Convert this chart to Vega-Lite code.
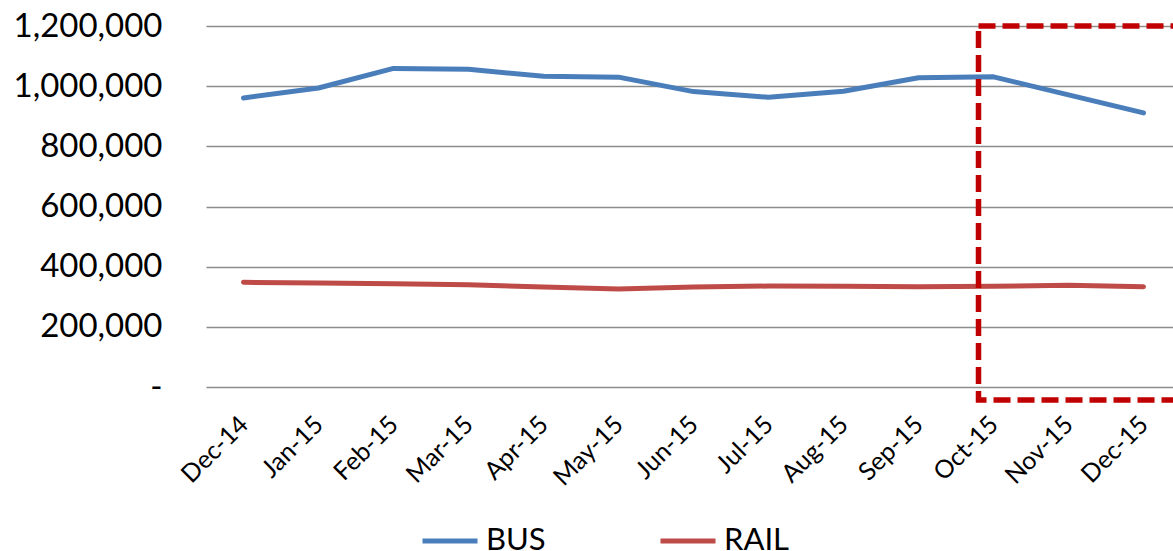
{
  "$schema": "https://vega.github.io/schema/vega-lite/v6.json",
  "autosize": {"type": "none"},
  "width": 967,
  "height": 361,
  "padding": {"left": 206, "top": 26, "right": 0, "bottom": 164},
  "background": "white",
  "config": {"view": {"stroke": null}, "font": "Lato"},
  "datasets": {
    "ridership": [
      {"month": "Dec-14", "mode": "BUS", "riders": 961000},
      {"month": "Jan-15", "mode": "BUS", "riders": 994000},
      {"month": "Feb-15", "mode": "BUS", "riders": 1059000},
      {"month": "Mar-15", "mode": "BUS", "riders": 1056000},
      {"month": "Apr-15", "mode": "BUS", "riders": 1033000},
      {"month": "May-15", "mode": "BUS", "riders": 1030000},
      {"month": "Jun-15", "mode": "BUS", "riders": 982000},
      {"month": "Jul-15", "mode": "BUS", "riders": 963000},
      {"month": "Aug-15", "mode": "BUS", "riders": 983000},
      {"month": "Sep-15", "mode": "BUS", "riders": 1028000},
      {"month": "Oct-15", "mode": "BUS", "riders": 1031000},
      {"month": "Nov-15", "mode": "BUS", "riders": 971000},
      {"month": "Dec-15", "mode": "BUS", "riders": 911000},
      {"month": "Dec-14", "mode": "RAIL", "riders": 348000},
      {"month": "Jan-15", "mode": "RAIL", "riders": 345500},
      {"month": "Feb-15", "mode": "RAIL", "riders": 343000},
      {"month": "Mar-15", "mode": "RAIL", "riders": 340000},
      {"month": "Apr-15", "mode": "RAIL", "riders": 332000},
      {"month": "May-15", "mode": "RAIL", "riders": 326000},
      {"month": "Jun-15", "mode": "RAIL", "riders": 332500},
      {"month": "Jul-15", "mode": "RAIL", "riders": 335500},
      {"month": "Aug-15", "mode": "RAIL", "riders": 334500},
      {"month": "Sep-15", "mode": "RAIL", "riders": 333000},
      {"month": "Oct-15", "mode": "RAIL", "riders": 335000},
      {"month": "Nov-15", "mode": "RAIL", "riders": 338000},
      {"month": "Dec-15", "mode": "RAIL", "riders": 333000}
    ],
    "highlight": [
      {"start": "Oct-15", "end": "Dec-15", "top": 1200000, "bottom": 0}
    ]
  },
  "layer": [
    {
      "data": {"name": "ridership"},
      "mark": {"type": "line", "strokeWidth": 5, "strokeCap": "round", "strokeJoin": "round"},
      "encoding": {
        "x": {
          "field": "month",
          "type": "ordinal",
          "sort": null,
          "scale": {
            "type": "point",
            "domain": ["Dec-14", "Jan-15", "Feb-15", "Mar-15", "Apr-15", "May-15", "Jun-15", "Jul-15", "Aug-15", "Sep-15", "Oct-15", "Nov-15", "Dec-15"],
            "range": [0, 975],
            "padding": 0.5
          },
          "axis": {
            "title": null,
            "labelAngle": -45,
            "labelAlign": "right",
            "labelBaseline": "middle",
            "labelFontSize": 25,
            "labelColor": "black",
            "labelPadding": 33,
            "labelOverlap": false,
            "ticks": false,
            "domain": false,
            "grid": false
          }
        },
        "y": {
          "field": "riders",
          "type": "quantitative",
          "scale": {"domain": [0, 1200000], "nice": false},
          "axis": {
            "title": null,
            "values": [0, 200000, 400000, 600000, 800000, 1000000, 1200000],
            "format": ",.0f",
            "labelExpr": "datum.value === 0 ? '-' : datum.label",
            "labelFontSize": 33,
            "labelColor": "black",
            "labelPadding": 44,
            "ticks": false,
            "domain": false,
            "gridColor": "#8c8c8c",
            "gridWidth": 1.5
          }
        },
        "color": {
          "field": "mode",
          "type": "nominal",
          "scale": {"domain": ["BUS", "RAIL"], "range": ["#4A7EBB", "#BE4B48"]},
          "legend": {
            "title": null,
            "orient": "none",
            "direction": "horizontal",
            "legendX": 214,
            "legendY": 485,
            "symbolType": "stroke",
            "symbolSize": 3025,
            "symbolStrokeWidth": 5,
            "labelFontSize": 31,
            "labelColor": "black",
            "labelOffset": 6,
            "columnPadding": 104
          }
        }
      }
    },
    {
      "data": {"name": "highlight"},
      "mark": {
        "type": "rect",
        "fillOpacity": 0,
        "stroke": "#C00000",
        "strokeWidth": 5.5,
        "strokeDash": [17, 7],
        "xOffset": -15,
        "x2Offset": 60,
        "y2Offset": 13
      },
      "encoding": {
        "x": {"field": "start", "type": "ordinal"},
        "x2": {"field": "end"},
        "y": {"field": "top", "type": "quantitative"},
        "y2": {"field": "bottom"}
      }
    }
  ]
}
